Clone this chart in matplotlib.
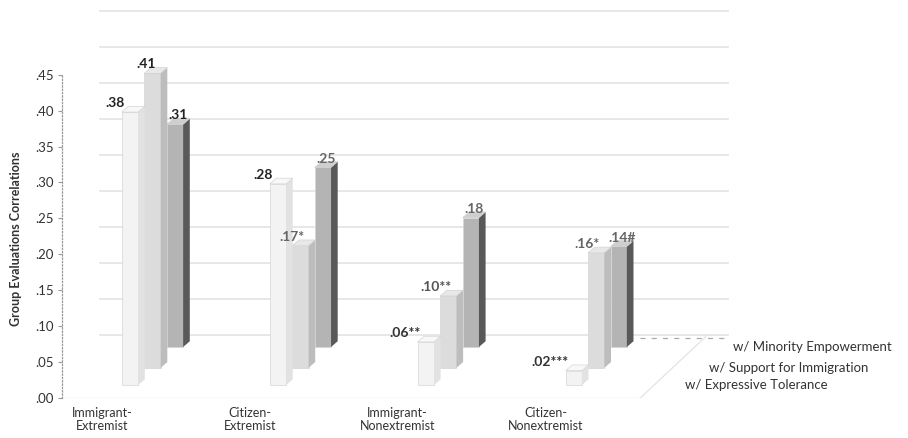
import matplotlib
matplotlib.use("Agg")
import matplotlib.pyplot as plt
from matplotlib.patches import Polygon
import numpy as np

plt.rcParams['font.family'] = ['Lato', 'DejaVu Sans']

# data
categories = ['Immigrant-\nExtremist', 'Citizen-\nExtremist',
              'Immigrant-\nNonextremist', 'Citizen-\nNonextremist']
series_names = ['w/ Expressive Tolerance', 'w/ Support for Immigration',
                'w/ Minority Empowerment']
expressive = [0.38, 0.28, 0.06, 0.02]
support = [0.41, 0.17, 0.10, 0.16]
minority = [0.31, 0.25, 0.18, 0.14]
expressive_lbl = ['.38', '.28', '.06**', '.02***']
support_lbl = ['.41', '.17*', '.10**', '.16*']
minority_lbl = ['.31', '.25', '.18', '.14#']
yticks = [0.00, 0.05, 0.10, 0.15, 0.20, 0.25, 0.30, 0.35, 0.40, 0.45]
ytick_labels = ['.00', '.05', '.10', '.15', '.20', '.25', '.30', '.35', '.40', '.45']

values = [expressive, support, minority]
labels = [expressive_lbl, support_lbl, minority_lbl]

# fake 3d geometry (depth rows)
base = [0.018, 0.042, 0.071]     # floor rises with depth
dx = 0.152                       # horizontal shift per depth row
wall = 0.088                     # back wall offset
w = 0.11
sx, sy = 0.045, 0.008
face = ['#f3f3f3', '#dcdcdc', '#b4b4b4']
side = ['#e2e2e2', '#bdbdbd', '#595959']
top = ['#f8f8f8', '#e8e8e8', '#cfcfcf']
lbl_col = [['#222222', '#222222', '#333333', '#333333'],
           ['#222222', '#666666', '#555555', '#666666'],
           ['#222222', '#666666', '#666666', '#666666']]

fig = plt.figure(figsize=(9.08, 4.38), dpi=100)
ax = fig.add_axes([62/908, 40/438, 846/908, 398/438])
ax.set_xlim(-0.46, 5.26)
ax.set_ylim(0, 0.554)

x = np.arange(len(categories))

# back wall gridlines
for t in yticks:
    ax.plot([-0.2, 4.04], [t + wall, t + wall], color='#e3e3e3', lw=1.2, zorder=0)
# floor
ax.plot([-0.46, 3.45], [0, 0], color='#e6e6e6', lw=1, zorder=0)
ax.plot([3.45, 3.45 + 3*dx], [0, wall], color='#e6e6e6', lw=1, zorder=0)
ax.plot([3.45, 4.04], [wall - 0.004, wall - 0.004], color='#aaaaaa', lw=0.9,
        ls=(0, (4, 5)), zorder=0)

for k in [2, 1, 0]:
    xs = x + k*dx
    ax.bar(xs, values[k], width=w, bottom=base[k], color=face[k],
           edgecolor='#d6d6d6', linewidth=0.5, zorder=2 + (2 - k))
    for i in range(len(xs)):
        xl = xs[i] - w/2
        xr = xs[i] + w/2
        b = base[k]
        tp = base[k] + values[k][i]
        ax.add_patch(Polygon([(xr, b), (xr + sx, b + sy), (xr + sx, tp + sy), (xr, tp)],
                             closed=True, facecolor=side[k], edgecolor='none',
                             zorder=2 + (2 - k)))
        ax.add_patch(Polygon([(xl, tp), (xr, tp), (xr + sx, tp + sy), (xl + sx, tp + sy)],
                             closed=True, facecolor=top[k], edgecolor='#cccccc',
                             linewidth=0.4, zorder=2 + (2 - k)))
        if k == 0:
            lx, ha = xl + 0.02, 'right'
        elif k == 1:
            lx, ha = xl + 0.08, 'right'
        else:
            lx, ha = xs[i] + 0.02, 'center'
        ax.text(lx, tp + 0.004, labels[k][i], ha=ha, va='bottom', fontsize=10,
                fontweight='bold', color=lbl_col[k][i], zorder=10)
    # depth axis labels
    ax.text(x[-1] + 0.75 + k*0.162, base[k], series_names[k], ha='left', va='center',
            fontsize=9.5, color='#333333')

# category labels
for i, c in enumerate(categories):
    ax.text(x[i] - 0.19, -0.012, c, ha='center', va='top', fontsize=9,
            color='#333333', linespacing=1.15, clip_on=False)

for s in ['top', 'right', 'bottom']:
    ax.spines[s].set_visible(False)
ax.spines['left'].set_bounds(0, 0.45)
ax.spines['left'].set_color('#999999')
ax.spines['left'].set_linestyle(':')
ax.spines['left'].set_linewidth(0.9)
ax.set_xticks([])
ax.set_yticks(yticks)
ax.set_yticklabels(ytick_labels, fontsize=9.5, color='#333333')
ax.tick_params(axis='y', length=3, color='#999999', pad=3)
ax.set_ylabel('Group Evaluations Correlations', fontsize=9, fontweight='bold',
              color='#333333')
ax.yaxis.set_label_coords(-0.047, 0.40)
ax.set_facecolor('white')

fig.savefig('out.png', dpi=100, facecolor='white')
